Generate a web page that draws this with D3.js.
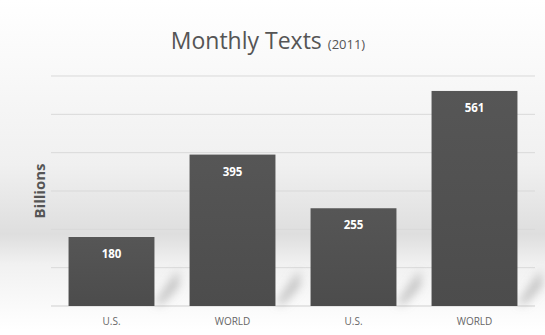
<!DOCTYPE html>
<html>
<head>
<meta charset="UTF-8">
<script src="https://d3js.org/d3.v7.min.js"></script>
<style>
body{ margin:0; background:#fff; font-family:"Open Sans", sans-serif; }
</style>
</head>
<body>
<svg width="545" height="335"></svg>
<script>
// data
const categories = ["U.S.", "WORLD", "U.S. ", "WORLD "]
const labels = ["U.S.", "WORLD", "U.S.", "WORLD"]
const values = [180, 395, 255, 561]
const yTicks = [0, 100, 200, 300, 400, 500, 600]

const svg = d3.select("svg")
const W = 545, H = 335
const plotLeft = 51, plotRight = 535, plotTop = 76, plotBottom = 306

const x = d3.scaleBand().domain(categories).range([plotLeft, plotRight]).paddingInner(0.29).paddingOuter(0.145)
const y = d3.scaleLinear().domain([0, 600]).range([plotBottom, plotTop])

const defs = svg.append("defs")

// background shading
let bg = defs.append("linearGradient").attr("id", "bg").attr("x1", 0).attr("y1", 0).attr("x2", 0).attr("y2", 1)
bg.append("stop").attr("offset", "0%").attr("stop-color", "#ffffff")
bg.append("stop").attr("offset", "50%").attr("stop-color", "#f0f0f0")
bg.append("stop").attr("offset", "71%").attr("stop-color", "#dedede")
bg.append("stop").attr("offset", "80%").attr("stop-color", "#f1f1f1")
bg.append("stop").attr("offset", "100%").attr("stop-color", "#ffffff")

let barGrad = defs.append("linearGradient").attr("id", "barg").attr("x1", 0).attr("y1", 0).attr("x2", 0).attr("y2", 1)
barGrad.append("stop").attr("offset", "0%").attr("stop-color", "#565656")
barGrad.append("stop").attr("offset", "100%").attr("stop-color", "#4c4c4c")

defs.append("filter").attr("id", "blur").attr("x", "-50%").attr("y", "-50%").attr("width", "200%").attr("height", "200%")
  .append("feGaussianBlur").attr("stdDeviation", 5)

svg.append("rect").attr("x", 0).attr("y", 0).attr("width", W).attr("height", H).attr("fill", "#fff")
svg.append("rect").attr("x", 0).attr("y", 0).attr("width", W).attr("height", 330).attr("fill", "url(#bg)")

// gridlines
svg.append("g").selectAll("line")
  .data(yTicks)
  .join("line")
  .attr("x1", plotLeft).attr("x2", plotRight)
  .attr("y1", d => y(d)).attr("y2", d => y(d))
  .attr("stroke", d => d == 0 ? "#cfcfcf" : "#d9d9d9")
  .attr("stroke-width", 1)

// shadows
svg.append("g").attr("filter", "url(#blur)").selectAll("path")
  .data(values)
  .join("path")
  .attr("d", (d, i) => {
    let x0 = x(categories[i]) + x.bandwidth()
    let yb = y(0) - 2
    return "M" + x0 + "," + yb + " L" + (x0 + 24) + "," + (yb - 34) + " L" + (x0 + 24) + "," + (yb - 18) + " L" + (x0 + 8) + "," + yb + "Z"
  })
  .attr("fill", "#9a9a9a")
  .attr("opacity", 0.6)

// bars
svg.append("g").selectAll("rect")
  .data(values)
  .join("rect")
  .attr("x", (d, i) => x(categories[i]))
  .attr("y", d => y(d))
  .attr("width", x.bandwidth())
  .attr("height", d => y(0) - y(d))
  .attr("fill", "url(#barg)")

// value labels
svg.append("g").selectAll("text")
  .data(values)
  .join("text")
  .attr("x", (d, i) => x(categories[i]) + x.bandwidth() / 2)
  .attr("y", d => y(d) + 21)
  .attr("text-anchor", "middle")
  .attr("fill", "#fff")
  .style("font-size", "11.5px")
  .style("font-weight", "bold")
  .text(d => d)

// x labels
svg.append("g").selectAll("text")
  .data(categories)
  .join("text")
  .attr("x", d => x(d) + x.bandwidth() / 2)
  .attr("y", 325)
  .attr("text-anchor", "middle")
  .attr("fill", "#666")
  .style("font-size", "10px")
  .text((d, i) => labels[i])

// title
let title = svg.append("text")
  .attr("x", 268).attr("y", 49)
  .attr("text-anchor", "middle")
  .attr("fill", "#555")
  .style("font-size", "23px")
title.append("tspan").text("Monthly Texts ")
title.append("tspan").style("font-size", "13px").text("(2011)")

// y axis title
svg.append("text")
  .attr("transform", "translate(45,191) rotate(-90)")
  .attr("text-anchor", "middle")
  .attr("fill", "#555")
  .style("font-size", "15px")
  .style("font-weight", "bold")
  .text("Billions")
</script>
</body>
</html>
